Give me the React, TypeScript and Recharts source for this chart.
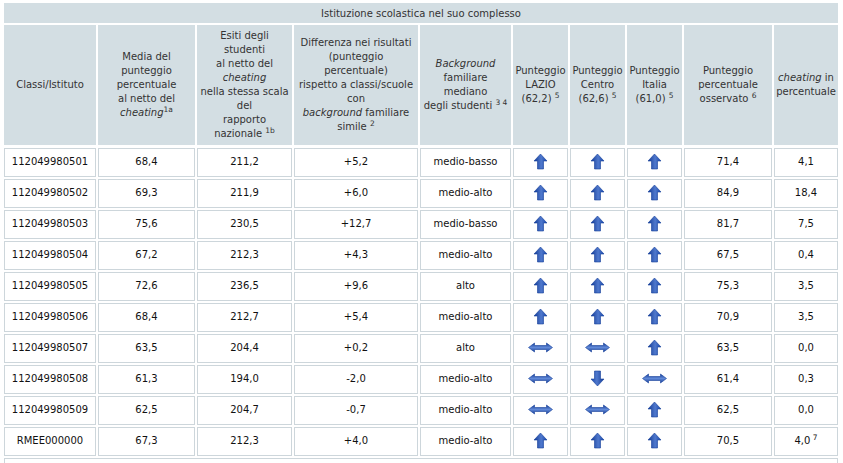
import React from 'react';
import { ScatterChart, Scatter, XAxis, YAxis, Customized } from 'recharts';

// ---- data ----
const ids = ['112049980501', '112049980502', '112049980503', '112049980504', '112049980505', '112049980506', '112049980507', '112049980508', '112049980509', 'RMEE000000'];
const media = [68.4, 69.3, 75.6, 67.2, 72.6, 68.4, 63.5, 61.3, 62.5, 67.3];
const esiti = [211.2, 211.9, 230.5, 212.3, 236.5, 212.7, 204.4, 194.0, 204.7, 212.3];
const diff = [5.2, 6.0, 12.7, 4.3, 9.6, 5.4, 0.2, -2.0, -0.7, 4.0];
const background = ['medio-basso', 'medio-alto', 'medio-basso', 'medio-alto', 'alto', 'medio-alto', 'alto', 'medio-alto', 'medio-alto', 'medio-alto'];
const lazio = ['up', 'up', 'up', 'up', 'up', 'up', 'eq', 'eq', 'eq', 'up'];
const centro = ['up', 'up', 'up', 'up', 'up', 'up', 'eq', 'down', 'eq', 'up'];
const italia = ['up', 'up', 'up', 'up', 'up', 'up', 'up', 'eq', 'up', 'up'];
const osservato = [71.4, 84.9, 81.7, 67.5, 75.3, 70.9, 63.5, 61.4, 62.5, 70.5];
const cheating = [4.1, 18.4, 7.5, 0.4, 3.5, 3.5, 0.0, 0.3, 0.0, 4.0];
const cheatingNotes = ['', '', '', '', '', '', '', '', '', '7'];

const title = 'Istituzione scolastica nel suo complesso';

type Seg = { t: string; i?: boolean; sup?: boolean };
const headers: Seg[][][] = [
  [[{ t: 'Classi/Istituto' }]],
  [[{ t: 'Media del' }], [{ t: 'punteggio' }], [{ t: 'percentuale' }], [{ t: 'al netto del' }], [{ t: 'cheating', i: true }, { t: '1a', sup: true }]],
  [[{ t: 'Esiti degli' }], [{ t: 'studenti' }], [{ t: 'al netto del' }], [{ t: 'cheating', i: true }], [{ t: 'nella stessa scala' }], [{ t: 'del' }], [{ t: 'rapporto' }], [{ t: 'nazionale ' }, { t: '1b', sup: true }]],
  [[{ t: 'Differenza nei risultati' }], [{ t: '(punteggio' }], [{ t: 'percentuale)' }], [{ t: 'rispetto a classi/scuole' }], [{ t: 'con' }], [{ t: 'background', i: true }, { t: ' familiare' }], [{ t: 'simile ' }, { t: '2', sup: true }]],
  [[{ t: 'Background', i: true }], [{ t: 'familiare' }], [{ t: 'mediano' }], [{ t: 'degli studenti ' }, { t: '3 4', sup: true }]],
  [[{ t: 'Punteggio' }], [{ t: 'LAZIO' }], [{ t: '(62,2) ' }, { t: '5', sup: true }]],
  [[{ t: 'Punteggio' }], [{ t: 'Centro' }], [{ t: '(62,6) ' }, { t: '5', sup: true }]],
  [[{ t: 'Punteggio' }], [{ t: 'Italia' }], [{ t: '(61,0) ' }, { t: '5', sup: true }]],
  [[{ t: 'Punteggio' }], [{ t: 'percentuale' }], [{ t: 'osservato ' }, { t: '6', sup: true }]],
  [[{ t: 'cheating', i: true }, { t: ' in' }], [{ t: 'percentuale' }]],
];

const rows = ids.map((id, i) => ({
  row: i,
  id,
  media: media[i],
  esiti: esiti[i],
  diff: diff[i],
  background: background[i],
  lazio: lazio[i],
  centro: centro[i],
  italia: italia[i],
  osservato: osservato[i],
  cheating: cheating[i],
  note: cheatingNotes[i],
}));

// ---- layout / style ----
const W = 843;
const H = 463;
const FONT = '"DejaVu Sans", Verdana, sans-serif';
const HEAD_FILL = '#d3dee3';
const BORDER = '#cdd6db';
const HEAD_TEXT = '#333';

const fmt = (v: number) => v.toFixed(1).replace('.', ',');
const fmtSigned = (v: number) => (v >= 0 ? '+' : '') + fmt(v);

type Col = { key: string; x0: number; x1: number; kind: 'text' | 'arrow'; f?: (r: any) => string; sup?: (r: any) => string };
const cols: Col[] = [
  { key: 'id', x0: 4, x1: 96, kind: 'text', f: (r) => r.id },
  { key: 'media', x0: 98, x1: 195, kind: 'text', f: (r) => fmt(r.media) },
  { key: 'esiti', x0: 197, x1: 292, kind: 'text', f: (r) => fmt(r.esiti) },
  { key: 'diff', x0: 294, x1: 418, kind: 'text', f: (r) => fmtSigned(r.diff) },
  { key: 'background', x0: 420, x1: 511, kind: 'text', f: (r) => r.background },
  { key: 'lazio', x0: 513, x1: 568, kind: 'arrow' },
  { key: 'centro', x0: 570, x1: 625, kind: 'arrow' },
  { key: 'italia', x0: 627, x1: 682, kind: 'arrow' },
  { key: 'osservato', x0: 684, x1: 772, kind: 'text', f: (r) => fmt(r.osservato) },
  { key: 'cheating', x0: 774, x1: 838, kind: 'text', f: (r) => fmt(r.cheating), sup: (r) => r.note },
];

const UP = 'M0,-7.5 L6.5,-0.5 L3,-0.5 L3,7.5 L-3,7.5 L-3,-0.5 L-6.5,-0.5 Z';
const EQ = 'M-12,0 L-6,-4.5 L-6,-2 L6,-2 L6,-4.5 L12,0 L6,4.5 L6,2 L-6,2 L-6,4.5 Z';

function Arrow({ x, y, dir }: { x: number; y: number; dir: string }) {
  if (dir === 'eq') {
    return <path d={EQ} transform={`translate(${x},${y})`} fill="url(#gradH)" stroke="#163f9a" strokeWidth={0.6} />;
  }
  const rot = dir === 'down' ? 180 : 0;
  return <path d={UP} transform={`translate(${x},${y}) rotate(${rot})`} fill="url(#gradV)" stroke="#163f9a" strokeWidth={0.6} />;
}

function makeShape(col: Col) {
  return (props: any) => {
    const { cx, cy, payload } = props;
    if (cx == null || cy == null) return <g />;
    const top = cy - 14.5;
    const mid = (col.x0 + col.x1) / 2;
    return (
      <g>
        <rect x={col.x0 + 0.5} y={top + 0.5} width={col.x1 - col.x0 - 1} height={28} fill="#fff" stroke={BORDER} strokeWidth={1} />
        {col.kind === 'arrow' ? (
          <Arrow x={mid} y={cy - 1} dir={payload[col.key]} />
        ) : (
          <text x={mid} y={cy + 2.5} textAnchor="middle" fontFamily={FONT} fontSize={10} fill="#111">
            {col.f!(payload)}
            {col.sup && col.sup(payload) ? (
              <tspan fontSize={7.5} dy={-4}>{' ' + col.sup(payload)}</tspan>
            ) : null}
          </text>
        )}
      </g>
    );
  };
}

function Header() {
  return (
    <g>
      <defs>
        <linearGradient id="gradV" x1="0" y1="0" x2="1" y2="0">
          <stop offset="0%" stopColor="#123a96" />
          <stop offset="55%" stopColor="#4f78cc" />
          <stop offset="100%" stopColor="#1a49ad" />
        </linearGradient>
        <linearGradient id="gradH" x1="0" y1="0" x2="0" y2="1">
          <stop offset="0%" stopColor="#143d9a" />
          <stop offset="50%" stopColor="#6088d6" />
          <stop offset="100%" stopColor="#143d9a" />
        </linearGradient>
      </defs>
      <rect x={4} y={3} width={834} height={20} fill={HEAD_FILL} />
      <text x={421} y={16.5} textAnchor="middle" fontFamily={FONT} fontSize={10} fill={HEAD_TEXT}>
        {title}
      </text>
      {cols.map((c, ci) => {
        const lines = headers[ci];
        const n = lines.length;
        const mid = (c.x0 + c.x1) / 2;
        return (
          <g key={c.key}>
            <rect x={c.x0} y={25} width={c.x1 - c.x0} height={120} fill={HEAD_FILL} />
            {lines.map((segs, k) => (
              <text
                key={k}
                x={mid}
                y={84 + (k - (n - 1) / 2) * 14 + 3.5}
                textAnchor="middle"
                fontFamily={FONT}
                fontSize={10}
                fill={HEAD_TEXT}
              >
                {segs.map((s, si) =>
                  s.sup ? (
                    <tspan key={si} fontSize={7.5} dy={-4}>
                      {s.t}
                    </tspan>
                  ) : (
                    <tspan key={si} fontStyle={s.i ? 'italic' : 'normal'}>
                      {s.t}
                    </tspan>
                  )
                )}
              </text>
            ))}
          </g>
        );
      })}
      <rect x={4.5} y={458.5} width={833} height={20} fill="#fff" stroke={BORDER} strokeWidth={1} />
    </g>
  );
}

export default function App() {
  return (
    <div style={{ position: 'absolute', left: 0, top: 0, width: W, height: H, background: '#fff' }}>
      <ScatterChart width={W} height={H} margin={{ top: 162.5, right: 0, bottom: 21.5, left: 0 }}>
        <XAxis type="number" dataKey="x" domain={[0, W]} hide />
        <YAxis type="number" dataKey="row" domain={[0, rows.length - 1]} reversed hide />
        <Customized component={<Header />} />
        {cols.map((c) => (
          <Scatter
            key={c.key}
            data={rows.map((r) => ({ ...r, x: (c.x0 + c.x1) / 2 }))}
            shape={makeShape(c)}
            isAnimationActive={false}
          />
        ))}
      </ScatterChart>
    </div>
  );
}
